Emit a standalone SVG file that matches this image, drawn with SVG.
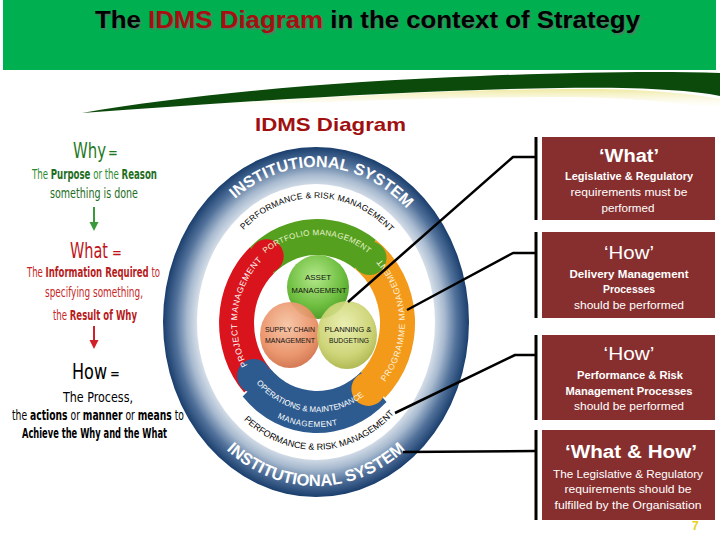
<svg xmlns="http://www.w3.org/2000/svg" xmlns:xlink="http://www.w3.org/1999/xlink" width="720" height="540" viewBox="0 0 720 540">
<defs>
<style>
.sans{font-family:"Liberation Sans",Arial,sans-serif}
.narrow{font-family:"Liberation Sans Narrow","DejaVu Sans Condensed","Liberation Sans",sans-serif}
.box{fill:#872f2f}
.bt{font-family:"Liberation Sans",Arial,sans-serif;fill:#ffffff;text-anchor:middle}
.lead{fill:none;stroke:#000;stroke-width:2.5;stroke-linejoin:round}
.bar{stroke:#000;stroke-width:3}
.ring{font-family:"Liberation Sans",Arial,sans-serif;font-weight:bold}
.ct{font-family:"Liberation Sans",Arial,sans-serif;font-size:8px;fill:#111111;text-anchor:middle}
</style>
<radialGradient id="ringGrad" cx="0.5" cy="0.5" r="0.5">
<stop offset="0.76" stop-color="#e3e9f0"/>
<stop offset="0.84" stop-color="#a9bbd0"/>
<stop offset="0.92" stop-color="#52729b"/>
<stop offset="1" stop-color="#1a3e6d"/>
</radialGradient>
<radialGradient id="gAsset" cx="0.45" cy="0.35" r="0.65">
<stop offset="0" stop-color="#b4e88a"/>
<stop offset="0.7" stop-color="#6cbd3e"/>
<stop offset="1" stop-color="#4f9e2a"/>
</radialGradient>
<radialGradient id="gSupply" cx="0.45" cy="0.35" r="0.65">
<stop offset="0" stop-color="#f6c3a2"/>
<stop offset="0.7" stop-color="#e98f64"/>
<stop offset="1" stop-color="#d2714a"/>
</radialGradient>
<radialGradient id="gPlan" cx="0.45" cy="0.35" r="0.65">
<stop offset="0" stop-color="#e8eda8"/>
<stop offset="0.7" stop-color="#c8d06a"/>
<stop offset="1" stop-color="#a9b343"/>
</radialGradient>
<linearGradient id="glow" x1="0" y1="0" x2="0" y2="1">
<stop offset="0" stop-color="#efe9a0"/>
<stop offset="1" stop-color="#ffffff" stop-opacity="0"/>
</linearGradient>
<path id="pTopInst" d="M 191,269 A 133,155 0 0 1 441,269"/>
<path id="pBotInst" d="M 181.6,378.1 A 143,164 0 0 0 450.4,378.1"/>
<path id="pTopPerf" d="M 214.5,279.6 A 108,124 0 0 1 417.5,279.6"/>
<path id="pBotPerf" d="M 210.8,365.8 A 112,128 0 0 0 421.2,365.8"/>
<path id="pPort" d="M 238.1,292.9 A 84,88 0 0 1 395.9,292.9"/>
<path id="pProj" d="M 277,397.5 A 80,86 0 0 1 300.4,238.9"/>
<path id="pProg" d="M 332.3,414.6 A 88,93 0 0 0 324.7,230.4"/>
<path id="pOps" d="M 236.2,338.5 A 82,89 0 0 0 393.0,356.4"/>
<path id="pOps2" d="M 226.8,358.6 A 96,104 0 0 0 403.3,368.6"/>
</defs>

<rect width="720" height="540" fill="#ffffff"/>

<g id="header">
<rect x="3" y="0" width="713" height="70" fill="#00b050"/>
<text class="sans" x="96.5" y="29.5" font-size="24" font-weight="bold" fill="#6b6b6b" opacity="0.6" textLength="545" lengthAdjust="spacingAndGlyphs">The IDMS Diagram in the context of Strategy</text>
<text class="sans" x="95" y="28" font-size="24" font-weight="bold" fill="#000" textLength="545" lengthAdjust="spacingAndGlyphs">The <tspan fill="#a50f0f">IDMS Diagram</tspan> in the context of Strategy</text>
</g>

<g id="swoosh">
<path d="M 200,106 C 350,95 500,88 600,89 C 660,90 700,95 720,99 L 720,110 C 680,102 620,97 560,97 C 450,97 300,103 200,106 Z" fill="url(#glow)"/>
<path d="M 82,113 C 180,96 320,82 480,76 C 580,72 660,71 720,73 L 720,96 C 690,90 640,87 560,88 C 420,90 260,100 82,113 Z" fill="#0b4a0b"/>
</g>

<text id="subtitle" class="sans" x="255" y="131" font-size="19" font-weight="bold" fill="#a01010" textLength="151" lengthAdjust="spacingAndGlyphs">IDMS Diagram</text>

<g id="left-column">
<text class="narrow" x="73" y="158" font-size="22" fill="#1f7a1f" textLength="33" lengthAdjust="spacingAndGlyphs">Why</text>
<text class="narrow" x="108" y="157" font-size="13" font-weight="bold" fill="#1f7a1f">=</text>
<text class="narrow" x="32" y="179" font-size="14" fill="#2e8b2e" textLength="125" lengthAdjust="spacingAndGlyphs">The <tspan font-weight="bold" fill="#1e6e1e">Purpose</tspan> or the <tspan font-weight="bold" fill="#1e6e1e">Reason</tspan></text>
<text class="narrow" x="50" y="198" font-size="14" fill="#1e6e1e" textLength="88" lengthAdjust="spacingAndGlyphs">something is done</text>
<line x1="94" y1="207" x2="94" y2="224" stroke="#3a9a3a" stroke-width="2"/>
<polygon points="89.5,222 98.5,222 94,231" fill="#3a9a3a"/>

<text class="narrow" x="70" y="258" font-size="22" fill="#c0141a" textLength="38" lengthAdjust="spacingAndGlyphs">What</text>
<text class="narrow" x="112" y="257" font-size="13" font-weight="bold" fill="#c0141a">=</text>
<text class="narrow" x="27" y="277" font-size="14" fill="#c62828" textLength="133" lengthAdjust="spacingAndGlyphs">The <tspan font-weight="bold" fill="#b71c1c">Information Required</tspan> to</text>
<text class="narrow" x="45" y="297" font-size="14" fill="#c62828" textLength="98" lengthAdjust="spacingAndGlyphs">specifying something,</text>
<text class="narrow" x="53" y="320" font-size="14" fill="#c62828" textLength="84" lengthAdjust="spacingAndGlyphs">the <tspan font-weight="bold" fill="#b71c1c">Result of Why</tspan></text>
<line x1="94" y1="326" x2="94" y2="342" stroke="#d0202a" stroke-width="2"/>
<polygon points="89.5,340 98.5,340 94,349" fill="#d0202a"/>

<text class="narrow" x="72" y="379" font-size="22" fill="#000" textLength="35" lengthAdjust="spacingAndGlyphs">How</text>
<text class="narrow" x="110" y="378" font-size="13" font-weight="bold" fill="#000">=</text>
<text class="narrow" x="63" y="402" font-size="14" fill="#000" textLength="70" lengthAdjust="spacingAndGlyphs">The Process,</text>
<text class="narrow" x="12" y="420" font-size="14" fill="#000" textLength="172" lengthAdjust="spacingAndGlyphs">the <tspan font-weight="bold">actions</tspan> or <tspan font-weight="bold">manner</tspan> or <tspan font-weight="bold">means</tspan> to</text>
<text class="narrow" x="22" y="438" font-size="14" font-weight="bold" fill="#000" textLength="145" lengthAdjust="spacingAndGlyphs">Achieve the Why and the What</text>
</g>

<g id="institutional-system">
<path d="M 163,322 A 153,175 0 1 0 469,322 A 153,175 0 1 0 163,322 Z M 197,322 A 119,138 0 1 1 435,322 A 119,138 0 1 1 197,322 Z" fill="url(#ringGrad)" fill-rule="evenodd"/>
<text class="ring" font-size="16" fill="#ffffff" text-anchor="middle"><textPath xlink:href="#pTopInst" href="#pTopInst" startOffset="52%">INSTITUTIONAL SYSTEM</textPath></text>
<text class="ring" font-size="16.5" fill="#ffffff" text-anchor="middle"><textPath xlink:href="#pBotInst" href="#pBotInst" startOffset="50%">INSTITUTIONAL SYSTEM</textPath></text>
</g>

<g id="performance-risk">
<text class="sans" font-size="8.5" fill="#000" letter-spacing="0.2" text-anchor="middle"><textPath xlink:href="#pTopPerf" href="#pTopPerf" startOffset="50.5%">PERFORMANCE &amp; RISK MANAGEMENT</textPath></text>
<text class="sans" font-size="9" fill="#000" text-anchor="middle"><textPath xlink:href="#pBotPerf" href="#pBotPerf" startOffset="51.5%">PERFORMANCE &amp; RISK MANAGEMENT</textPath></text>
</g>

<g id="portfolio-management">
<path d="M 250.2,247.0 A 98,104 0 0 1 376.0,239.9 L 354.9,268.7 A 63,68 0 0 0 274.0,273.3 Z" fill="#55a01f"/>
</g>
<g id="programme-management">
<path d="M 376.0,239.9 A 98,104 0 0 1 385.1,397.8 L 360.8,371.9 A 63,68 0 0 0 354.9,268.7 Z" fill="#f39a1b"/>
</g>
<g id="operations-maintenance">
<path d="M 386.5,402.1 A 100,110 0 0 1 242.7,396.6 L 270.2,368.5 A 63,68 0 0 0 360.8,371.9 Z" fill="#2d5b8f"/>
</g>
<g id="project-management">
<path d="M 244.2,392.6 A 98,104 0 0 1 250.2,247.0 L 274.0,273.3 A 63,68 0 0 0 270.2,368.5 Z" fill="#d9141c"/>
</g>
<g id="puzzle-tabs">
<circle cx="266.7" cy="256.2" r="17" fill="#d9141c"/>
<circle cx="369.5" cy="258.1" r="17" fill="#55a01f"/>
<circle cx="368.4" cy="388.9" r="17" fill="#f39a1b"/>
<circle cx="254.0" cy="376.0" r="17" fill="#2d5b8f"/>
</g>
<g id="puzzle-labels">
<text class="sans" font-size="8" fill="#e6f3cc" letter-spacing="0.3" text-anchor="middle"><textPath xlink:href="#pPort" href="#pPort" startOffset="50%">PORTFOLIO  MANAGEMENT</textPath></text>
<text class="sans" font-size="8.5" fill="#ffffff" letter-spacing="0.6" text-anchor="middle"><textPath xlink:href="#pProj" href="#pProj" startOffset="50%">PROJECT MANAGEMENT</textPath></text>
<text class="sans" font-size="8.5" fill="#fff4dc" letter-spacing="0.7" text-anchor="middle"><textPath xlink:href="#pProg" href="#pProg" startOffset="50%">PROGRAMME MANAGEMENT</textPath></text>
<text class="sans" font-size="8" fill="#ffffff" text-anchor="middle"><textPath xlink:href="#pOps" href="#pOps" startOffset="50%">OPERATIONS &amp; MAINTENANCE</textPath></text>
<text class="sans" font-size="8" fill="#ffffff" letter-spacing="0.5" text-anchor="middle"><textPath xlink:href="#pOps2" href="#pOps2" startOffset="48%">MANAGEMENT</textPath></text>
</g>

<g id="asset-management">
<ellipse cx="318" cy="287" rx="31" ry="32" fill="url(#gAsset)"/>
<text class="ct" x="318" y="280">ASSET</text>
<text class="ct" x="319" y="293" textLength="55" lengthAdjust="spacingAndGlyphs">MANAGEMENT</text>
</g>
<g id="supply-chain-management">
<ellipse cx="290" cy="335" rx="30" ry="33" fill="url(#gSupply)" opacity="0.93"/>
<text class="ct" x="290" y="332" textLength="50" lengthAdjust="spacingAndGlyphs">SUPPLY CHAIN</text>
<text class="ct" x="290" y="343" textLength="50" lengthAdjust="spacingAndGlyphs">MANAGEMENT</text>
</g>
<g id="planning-budgeting">
<ellipse cx="347" cy="335" rx="30" ry="34" fill="url(#gPlan)" opacity="0.9"/>
<text class="ct" x="348" y="332" textLength="47" lengthAdjust="spacingAndGlyphs">PLANNING &amp;</text>
<text class="ct" x="349" y="343" textLength="40" lengthAdjust="spacingAndGlyphs">BUDGETING</text>
</g>

<g id="connectors">
<polyline class="lead" points="348,302 513,157 536,157"/>
<polyline class="lead" points="407,310 513,253 536,253"/>
<polyline class="lead" points="395,413 515,355 536,355"/>
<polyline class="lead" points="403,452 536,451"/>
<line class="bar" x1="536" y1="137" x2="536" y2="220"/>
<line class="bar" x1="536" y1="232" x2="536" y2="318"/>
<line class="bar" x1="536" y1="335" x2="536" y2="420"/>
<line class="bar" x1="536" y1="430" x2="536" y2="520"/>
</g>

<g id="box-what">
<rect class="box" x="542" y="137" width="173" height="83"/>
<text class="bt" x="629" y="162" font-size="18" font-weight="bold" textLength="60" lengthAdjust="spacingAndGlyphs">‘What’</text>
<text class="bt" x="629" y="180" font-size="11" font-weight="bold" textLength="128" lengthAdjust="spacingAndGlyphs">Legislative &amp; Regulatory</text>
<text class="bt" x="629" y="196" font-size="11" textLength="117" lengthAdjust="spacingAndGlyphs">requirements must be</text>
<text class="bt" x="628" y="212" font-size="11" textLength="53" lengthAdjust="spacingAndGlyphs">performed</text>
</g>

<g id="box-how-delivery">
<rect class="box" x="542" y="232" width="173" height="86"/>
<text class="bt" x="629" y="259" font-size="18" textLength="50" lengthAdjust="spacingAndGlyphs">‘How’</text>
<text class="bt" x="629" y="278" font-size="11" font-weight="bold" textLength="119" lengthAdjust="spacingAndGlyphs">Delivery Management</text>
<text class="bt" x="629" y="293" font-size="11" font-weight="bold" textLength="52" lengthAdjust="spacingAndGlyphs">Processes</text>
<text class="bt" x="629" y="309" font-size="11" textLength="110" lengthAdjust="spacingAndGlyphs">should be performed</text>
</g>

<g id="box-how-performance">
<rect class="box" x="542" y="335" width="173" height="85"/>
<text class="bt" x="629" y="360" font-size="18" textLength="51" lengthAdjust="spacingAndGlyphs">‘How’</text>
<text class="bt" x="630" y="379" font-size="11" font-weight="bold" textLength="106" lengthAdjust="spacingAndGlyphs">Performance &amp; Risk</text>
<text class="bt" x="629" y="395" font-size="11" font-weight="bold" textLength="127" lengthAdjust="spacingAndGlyphs">Management Processes</text>
<text class="bt" x="629" y="410" font-size="11" textLength="110" lengthAdjust="spacingAndGlyphs">should be performed</text>
</g>

<g id="box-what-how">
<rect class="box" x="542" y="430" width="173" height="90"/>
<text class="bt" x="631" y="458" font-size="18" font-weight="bold" textLength="132" lengthAdjust="spacingAndGlyphs">‘What &amp; How’</text>
<text class="bt" x="628" y="478" font-size="11" textLength="150" lengthAdjust="spacingAndGlyphs">The Legislative &amp; Regulatory</text>
<text class="bt" x="628" y="493" font-size="11" textLength="127" lengthAdjust="spacingAndGlyphs">requirements should be</text>
<text class="bt" x="628" y="509" font-size="11" textLength="147" lengthAdjust="spacingAndGlyphs">fulfilled by the Organisation</text>
</g>

<text id="page-number" class="sans" x="692" y="530" font-size="12" font-weight="bold" fill="#e8d020">7</text>
</svg>
